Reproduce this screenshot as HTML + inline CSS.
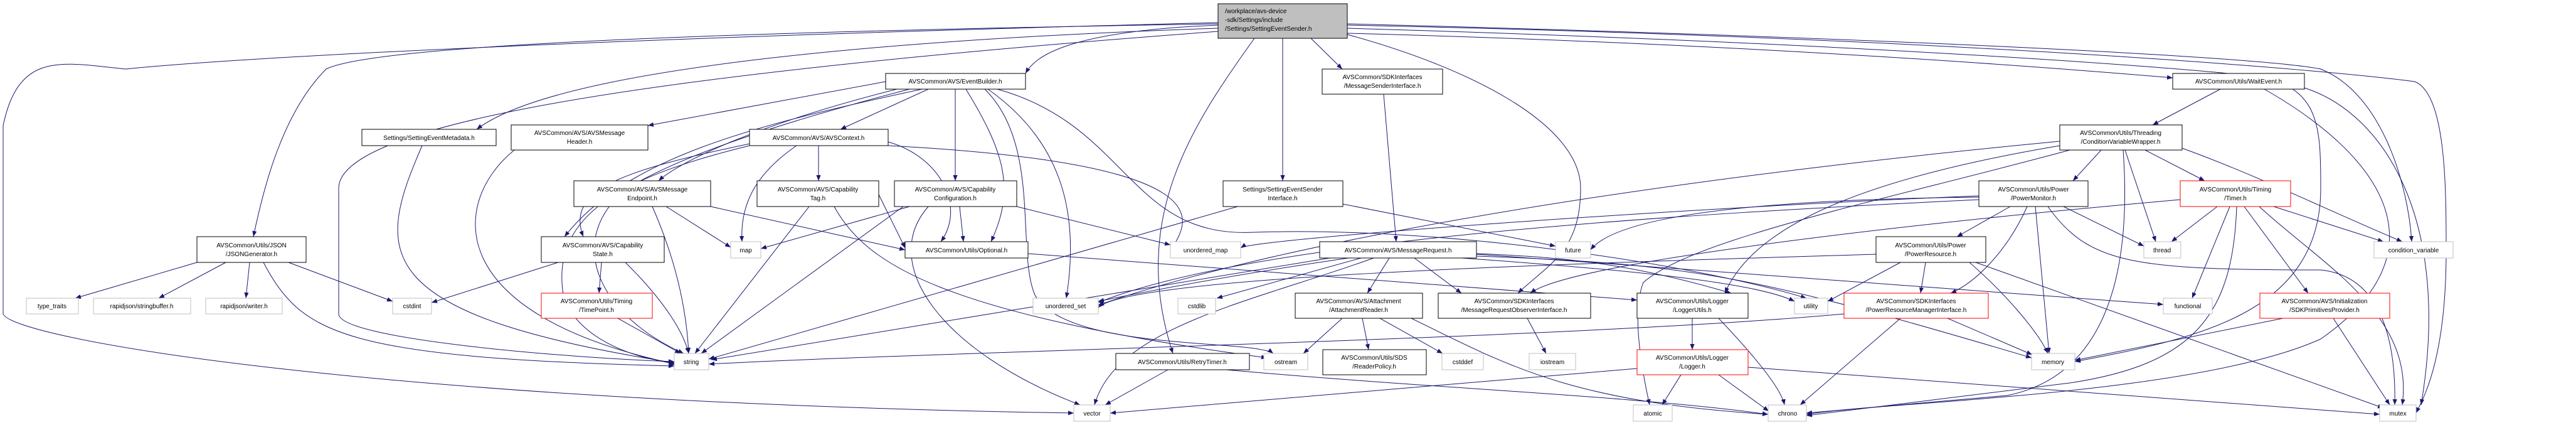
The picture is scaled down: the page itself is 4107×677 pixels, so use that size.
<!DOCTYPE html>
<html><head><meta charset="utf-8"><style>
html,body{margin:0;padding:0;background:#fff}
svg{display:block}
text{font-family:"Liberation Sans",sans-serif;font-size:10px;fill:#000;text-anchor:middle}
.e{fill:none;stroke:#191970;stroke-width:1}
.n{fill:#fff;stroke:#000;stroke-width:1}
.g{fill:#fff;stroke:#bfbfbf;stroke-width:1}
.r{fill:#fff;stroke:#ff0000;stroke-width:1}
</style></head><body>
<svg width="4107" height="677" viewBox="0 0 4107 677" xmlns="http://www.w3.org/2000/svg">
<defs><marker id="a" viewBox="0 0 10 10" refX="10" refY="5" markerWidth="9" markerHeight="9" orient="auto" markerUnits="userSpaceOnUse"><path d="M0,1 L10,5 L0,9 z" fill="#191970"/></marker></defs>
<g marker-end="url(#a)">
<!-- from main -->
<path class="e" d="M1942,40 C1700,50 1650,90 1635,117"/>
<path class="e" d="M2090,61 L2140,110"/>
<path class="e" d="M2148,53 C2800,70 3300,110 3464,124"/>
<path class="e" d="M1942,45 C1500,60 900,100 760,206"/>
<path class="e" d="M1942,38 C1200,50 600,70 520,110 C450,180 420,300 404,377"/>
<path class="e" d="M2045,61 L2045,288"/>
<path class="e" d="M1942,50 C1000,120 540,200 540,300 L540,500 C540,540 900,570 1075,576"/>
<path class="e" d="M1942,36 C1000,60 400,90 200,110 C100,100 30,80 5,200 L5,500 C20,540 600,640 1712,658"/>
<path class="e" d="M2000,61 C1900,200 1800,350 1870,563"/>
<path class="e" d="M2148,55 C2350,110 2520,200 2520,300 C2520,400 2470,420 2420,467"/>
<path class="e" d="M2148,38 C3000,60 3600,90 3700,110 C3800,150 3840,300 3845,385"/>
<path class="e" d="M2148,45 C3000,70 3500,110 3580,120 C3700,130 3700,200 3700,300 C3700,500 3500,540 3308,576"/>
<path class="e" d="M2148,40 C3100,60 3700,110 3850,130 C3900,150 3900,300 3900,400 C3900,580 3860,640 3852,658"/>
<!-- EventBuilder -->
<path class="e" d="M1412,130 L1033,200"/>
<path class="e" d="M1480,142 L1340,206"/>
<path class="e" d="M1430,142 C1200,200 1080,260 1050,288"/>
<path class="e" d="M1523,142 L1523,288"/>
<path class="e" d="M1540,142 C1600,240 1620,300 1580,385"/>
<path class="e" d="M1575,142 C1700,230 1720,350 1700,475"/>
<path class="e" d="M1470,142 C1200,200 1000,250 900,377"/>
<path class="e" d="M1450,142 C1150,220 1050,270 1000,300 C900,380 950,500 1090,563"/>
<path class="e" d="M1570,142 C1660,230 1620,400 1650,470 C1700,560 2000,540 2030,563"/>
<path class="e" d="M1590,142 C1800,200 1800,380 2000,370 C2300,360 2700,420 2880,475"/>
<!-- AVSContext -->
<path class="e" d="M1305,232 L1305,288"/>
<path class="e" d="M1270,232 C1200,280 1180,330 1183,385"/>
<path class="e" d="M1195,232 C1000,280 870,340 900,480 C940,560 1050,575 1080,580"/>
<path class="e" d="M1416,226 C1500,250 1540,330 1500,385"/>
<path class="e" d="M1416,232 C1950,260 1900,350 1866,398"/>
<path class="e" d="M1195,229 C1000,270 900,300 930,377"/>
<!-- Endpoint -->
<path class="e" d="M1062,329 L1165,394"/>
<path class="e" d="M1040,329 C1080,420 1095,500 1098,563"/>
<path class="e" d="M1133,329 L1443,398"/>
<!-- CapabilityTag -->
<path class="e" d="M1290,329 L1108,563"/>
<path class="e" d="M1401,310 L1443,395"/>
<path class="e" d="M1330,329 C1380,420 1500,500 2020,570"/>
<!-- CapabilityConfiguration -->
<path class="e" d="M1530,329 L1536,385"/>
<path class="e" d="M1621,329 L1866,390"/>
<path class="e" d="M1450,329 L1213,396"/>
<path class="e" d="M1440,329 L1118,563"/>
<path class="e" d="M1480,329 C1400,420 1500,560 1722,645"/>
<!-- SettingEventSenderInterface -->
<path class="e" d="M1973,329 L1130,572"/>
<path class="e" d="M2141,325 L2480,392"/>
<!-- SEM, AH -->
<path class="e" d="M673,232 C600,400 580,500 1075,578"/>
<path class="e" d="M820,239 C720,320 700,500 1077,580"/>
<!-- JSON -->
<path class="e" d="M314,418 L120,475"/>
<path class="e" d="M360,418 L253,475"/>
<path class="e" d="M398,418 L392,475"/>
<path class="e" d="M460,418 L626,480"/>
<path class="e" d="M420,418 C480,530 540,570 1075,583"/>
<!-- CapabilityState -->
<path class="e" d="M890,418 L688,482"/>
<path class="e" d="M959,418 L955,467"/>
<path class="e" d="M997,418 C1060,480 1090,530 1098,563"/>
<path class="e" d="M985,507 L1085,563"/>
<!-- MSI -> MR -->
<path class="e" d="M2206,150 L2226,385"/>
<!-- MessageRequest -->
<path class="e" d="M2150,411 C1950,440 1800,470 1751,480"/>
<path class="e" d="M2170,411 L1940,475"/>
<path class="e" d="M2215,411 L2180,467"/>
<path class="e" d="M2255,411 L2330,467"/>
<path class="e" d="M2120,411 L1134,573"/>
<path class="e" d="M2354,408 C2700,420 2800,440 3239,570"/>
<path class="e" d="M2354,405 C2700,430 3000,450 3449,485"/>
<path class="e" d="M2330,411 C2600,430 2800,450 2861,480"/>
<path class="e" d="M2190,411 C2000,480 1780,520 1745,645"/>
<!-- AttachmentReader -->
<path class="e" d="M2140,507 L2078,563"/>
<path class="e" d="M2172,507 L2182,557"/>
<path class="e" d="M2200,507 L2300,563"/>
<path class="e" d="M2250,507 C2400,580 2500,640 2819,660"/>
<!-- MROI -->
<path class="e" d="M2435,507 L2465,563"/>
<!-- Optional -> LoggerUtils -->
<path class="e" d="M1639,404 L2610,478"/>
<!-- LoggerUtils -->
<path class="e" d="M2698,507 L2698,557"/>
<path class="e" d="M2740,507 C2800,570 2840,620 2845,645"/>
<!-- Logger -->
<path class="e" d="M2680,597 L2650,645"/>
<path class="e" d="M2610,587 L1770,658"/>
<path class="e" d="M2787,585 L3794,660"/>
<path class="e" d="M2740,597 L2820,655"/>
<!-- RetryTimer -->
<path class="e" d="M1862,589 L1762,645"/>
<path class="e" d="M1955,589 C2300,620 2600,630 2819,660"/>
<!-- WaitEvent -->
<path class="e" d="M3540,142 L3432,199"/>
<path class="e" d="M3610,142 C3800,250 3900,400 3700,540 C3500,630 3000,640 2880,660"/>
<path class="e" d="M3674,140 C3800,180 3910,350 3860,645"/>
<!-- CVW -->
<path class="e" d="M3350,239 L3305,288"/>
<path class="e" d="M3420,239 L3515,288"/>
<path class="e" d="M3388,239 L3437,385"/>
<path class="e" d="M3479,236 C3600,280 3700,330 3830,385"/>
<path class="e" d="M3385,239 C3400,450 3350,600 3200,630 L2880,658"/>
<path class="e" d="M3284,232 C3000,280 2800,350 2750,467"/>
<path class="e" d="M3300,239 C3000,320 2700,380 2620,450 C2600,500 2620,600 2630,645"/>
<path class="e" d="M3284,225 C2500,300 2000,400 1751,486"/>
<!-- PowerMonitor -->
<path class="e" d="M3205,329 L3120,377"/>
<path class="e" d="M3232,329 C3200,400 3150,450 3110,467"/>
<path class="e" d="M3245,329 L3267,563"/>
<path class="e" d="M3290,329 L3418,392"/>
<path class="e" d="M3265,329 C3330,420 3400,430 3700,430 C3800,440 3820,550 3818,645"/>
<path class="e" d="M3155,312 C2700,330 2000,380 1978,395"/>
<path class="e" d="M3155,318 C2700,340 2000,380 1751,482"/>
<path class="e" d="M3155,314 C2600,320 2550,380 2536,398"/>
<!-- Timer -->
<path class="e" d="M3535,329 L3462,385"/>
<path class="e" d="M3625,329 L3800,385"/>
<path class="e" d="M3555,329 L3495,475"/>
<path class="e" d="M3578,329 L3680,467"/>
<path class="e" d="M3602,329 C3700,420 3850,500 3830,645"/>
<path class="e" d="M3566,329 C3560,500 3500,580 3300,610 L2880,662"/>
<path class="e" d="M3476,318 C3000,360 2500,420 2440,467"/>
<!-- PowerResource -->
<path class="e" d="M3030,418 L2914,480"/>
<path class="e" d="M3070,418 L3062,467"/>
<path class="e" d="M3140,418 C3200,470 3250,530 3265,563"/>
<path class="e" d="M3150,418 L3800,650"/>
<path class="e" d="M2991,405 C2500,420 1800,440 1751,490"/>
<!-- PRMI -->
<path class="e" d="M3105,507 L3240,565"/>
<path class="e" d="M3030,507 L2870,645"/>
<path class="e" d="M2940,500 C2500,540 1500,560 1130,580"/>
<!-- SPP -->
<path class="e" d="M3640,507 L3308,574"/>
<path class="e" d="M3720,507 L3810,645"/>
<!-- MR -> logger etc -->
<path class="e" d="M2354,404 C2500,410 2600,420 2760,467"/>
</g>
<!-- nodes -->
<rect x="1942" y="6" width="206" height="55" fill="#bfbfbf" stroke="#000"/>
<text x="1953" y="21" style="text-anchor:start">/workplace/avs-device</text>
<text x="1953" y="35" style="text-anchor:start">-sdk/Settings/include</text>
<text x="1953" y="49" style="text-anchor:start">/Settings/SettingEventSender.h</text>

<rect class="n" x="1412" y="117" width="223" height="25"/><text x="1523" y="133">AVSCommon/AVS/EventBuilder.h</text>
<rect class="n" x="2108" y="110" width="192" height="40"/><text x="2204" y="126">AVSCommon/SDKInterfaces</text><text x="2204" y="140">/MessageSenderInterface.h</text>
<rect class="n" x="3464" y="117" width="210" height="25"/><text x="3569" y="133">AVSCommon/Utils/WaitEvent.h</text>
<rect class="n" x="577" y="206" width="214" height="26"/><text x="684" y="223">Settings/SettingEventMetadata.h</text>
<rect class="n" x="815" y="199" width="218" height="40"/><text x="924" y="215">AVSCommon/AVS/AVSMessage</text><text x="924" y="229">Header.h</text>
<rect class="n" x="1195" y="206" width="221" height="26"/><text x="1305" y="223">AVSCommon/AVS/AVSContext.h</text>
<rect class="n" x="3284" y="199" width="195" height="40"/><text x="3381" y="215">AVSCommon/Utils/Threading</text><text x="3381" y="229">/ConditionVariableWrapper.h</text>
<rect class="n" x="915" y="288" width="218" height="41"/><text x="1024" y="305">AVSCommon/AVS/AVSMessage</text><text x="1024" y="319">Endpoint.h</text>
<rect class="n" x="1207" y="288" width="194" height="41"/><text x="1304" y="305">AVSCommon/AVS/Capability</text><text x="1304" y="319">Tag.h</text>
<rect class="n" x="1426" y="288" width="195" height="41"/><text x="1523" y="305">AVSCommon/AVS/Capability</text><text x="1523" y="319">Configuration.h</text>
<rect class="n" x="1950" y="288" width="191" height="41"/><text x="2045" y="305">Settings/SettingEventSender</text><text x="2045" y="319">Interface.h</text>
<rect class="n" x="3155" y="288" width="174" height="41"/><text x="3242" y="305">AVSCommon/Utils/Power</text><text x="3242" y="319">/PowerMonitor.h</text>
<rect class="r" x="3476" y="288" width="176" height="41"/><text x="3564" y="305">AVSCommon/Utils/Timing</text><text x="3564" y="319">/Timer.h</text>
<rect class="n" x="314" y="377" width="174" height="41"/><text x="401" y="394">AVSCommon/Utils/JSON</text><text x="401" y="408">/JSONGenerator.h</text>
<rect class="n" x="863" y="377" width="196" height="41"/><text x="961" y="394">AVSCommon/AVS/Capability</text><text x="961" y="408">State.h</text>
<rect class="n" x="2991" y="377" width="175" height="41"/><text x="3078" y="394">AVSCommon/Utils/Power</text><text x="3078" y="408">/PowerResource.h</text>
<rect class="g" x="1165" y="385" width="48" height="26"/><text x="1189" y="402">map</text>
<rect class="n" x="1443" y="385" width="196" height="26"/><text x="1541" y="402">AVSCommon/Utils/Optional.h</text>
<rect class="g" x="1866" y="385" width="112" height="26"/><text x="1922" y="402">unordered_map</text>
<rect class="n" x="2104" y="385" width="250" height="26"/><text x="2229" y="402">AVSCommon/AVS/MessageRequest.h</text>
<rect class="g" x="2480" y="385" width="56" height="26"/><text x="2508" y="402">future</text>
<rect class="g" x="3418" y="385" width="59" height="26"/><text x="3447" y="402">thread</text>
<rect class="g" x="3785" y="385" width="126" height="26"/><text x="3848" y="402">condition_variable</text>
<rect class="g" x="42" y="475" width="83" height="25"/><text x="83" y="491">type_traits</text>
<rect class="g" x="149" y="475" width="155" height="25"/><text x="226" y="491">rapidjson/stringbuffer.h</text>
<rect class="g" x="328" y="475" width="122" height="25"/><text x="389" y="491">rapidjson/writer.h</text>
<rect class="g" x="626" y="475" width="62" height="25"/><text x="657" y="491">cstdint</text>
<rect class="r" x="863" y="467" width="177" height="40"/><text x="951" y="483">AVSCommon/Utils/Timing</text><text x="951" y="497">/TimePoint.h</text>
<rect class="g" x="1647" y="475" width="104" height="25"/><text x="1699" y="491">unordered_set</text>
<rect class="g" x="1878" y="475" width="60" height="25"/><text x="1908" y="491">cstdlib</text>
<rect class="n" x="2065" y="467" width="203" height="40"/><text x="2166" y="483">AVSCommon/AVS/Attachment</text><text x="2166" y="497">/AttachmentReader.h</text>
<rect class="n" x="2293" y="467" width="243" height="40"/><text x="2414" y="483">AVSCommon/SDKInterfaces</text><text x="2414" y="497">/MessageRequestObserverInterface.h</text>
<rect class="n" x="2610" y="467" width="177" height="40"/><text x="2698" y="483">AVSCommon/Utils/Logger</text><text x="2698" y="497">/LoggerUtils.h</text>
<rect class="g" x="2861" y="475" width="53" height="25"/><text x="2887" y="491">utility</text>
<rect class="r" x="2940" y="467" width="230" height="40"/><text x="3055" y="483">AVSCommon/SDKInterfaces</text><text x="3055" y="497">/PowerResourceManagerInterface.h</text>
<rect class="g" x="3449" y="475" width="78" height="25"/><text x="3488" y="491">functional</text>
<rect class="r" x="3603" y="467" width="207" height="40"/><text x="3706" y="483">AVSCommon/AVS/Initialization</text><text x="3706" y="497">/SDKPrimitivesProvider.h</text>
<rect class="g" x="1075" y="563" width="55" height="26"/><text x="1102" y="580">string</text>
<rect class="n" x="1779" y="563" width="213" height="26"/><text x="1885" y="580">AVSCommon/Utils/RetryTimer.h</text>
<rect class="g" x="2015" y="563" width="70" height="26"/><text x="2050" y="580">ostream</text>
<rect class="n" x="2109" y="557" width="165" height="40"/><text x="2191" y="573">AVSCommon/Utils/SDS</text><text x="2191" y="587">/ReaderPolicy.h</text>
<rect class="g" x="2299" y="563" width="66" height="26"/><text x="2332" y="580">cstddef</text>
<rect class="g" x="2438" y="563" width="74" height="26"/><text x="2475" y="580">iostream</text>
<rect class="g" x="3239" y="563" width="69" height="26"/><text x="3273" y="580">memory</text>
<rect class="r" x="2610" y="557" width="177" height="40"/><text x="2698" y="573">AVSCommon/Utils/Logger</text><text x="2698" y="587">/Logger.h</text>
<rect class="g" x="1712" y="645" width="58" height="26"/><text x="1741" y="662">vector</text>
<rect class="g" x="2604" y="645" width="62" height="26"/><text x="2635" y="662">atomic</text>
<rect class="g" x="2819" y="645" width="61" height="26"/><text x="2850" y="662">chrono</text>
<rect class="g" x="3794" y="645" width="58" height="26"/><text x="3823" y="662">mutex</text>
</svg>
</body></html>
